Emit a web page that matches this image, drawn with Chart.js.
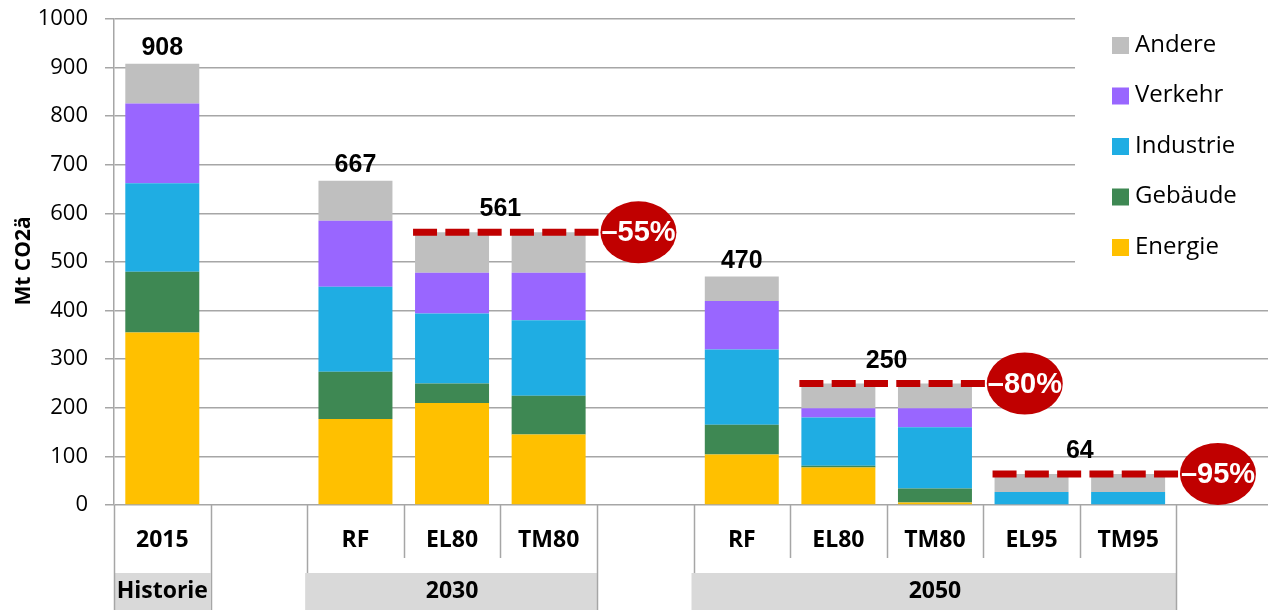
<!DOCTYPE html>
<html>
<head>
<meta charset="utf-8">
<script src="https://cdn.jsdelivr.net/npm/chart.js@4/dist/chart.umd.min.js"></script>
<style>
  html, body { margin: 0; padding: 0; background: #fff; overflow: hidden; }
  canvas { display: block; }
</style>
</head>
<body>
<canvas id="chart" width="1278" height="610"></canvas>
<script>
// categories on the x axis (blank ones are spacers between the groups)
const categories = ['2015', '', 'RF', 'EL80', 'TM80', '', 'RF', 'EL80', 'TM80', 'EL95', 'TM95', ''];

// Mt CO2ä per sector
const energie   = [355, null, 177, 210, 145, null, 104, 77,  5,   0,  0,  null];
const gebaeude  = [125, null,  97,  40,  80, null,  61,  4,  29,  0,  0,  null];
const industrie = [182, null, 175, 144, 155, null, 155, 99, 126, 27, 27,  null];
const verkehr   = [164, null, 136,  84,  98, null, 100, 19,  39,  0,  0,  null];
const andere    = [ 82, null,  82,  83,  83, null,  50, 51,  51, 37, 37,  null];

// totals written above single bars
const totalValues = [908, 667, 470];
const totalAt = [0, 2, 6];

// reduction targets (dashed line over a pair of bars)
const targetValues = [561, 250, 64];
const targetFrom = [3, 7, 9];
const targetTo = [4, 8, 10];
const targetLabels = ['\u201355%', '\u201380%', '\u201395%'];

// second row of the category axis
const groupNames = ['Historie', '2030', '2050'];
const groupFirst = [0, 2, 6];
const groupLast = [0, 4, 10];

Chart.defaults.font.family = '"Open Sans", sans-serif';
Chart.defaults.color = '#000';

const BAR_PCT = 0.766;
const LINE_GREY = '#a6a6a6';

const overlay = {
  id: 'overlay',
  afterDatasetsDraw(chart) {
    const { ctx, scales: { x, y } } = chart;
    const catW = x.getPixelForValue(1) - x.getPixelForValue(0);
    const barHalf = catW * BAR_PCT / 2;
    ctx.save();

    // totals above bars
    ctx.fillStyle = '#000';
    ctx.font = 'bold 25px "Liberation Sans", Arial, sans-serif';
    ctx.textAlign = 'center';
    ctx.textBaseline = 'alphabetic';
    totalValues.forEach((v, i) => {
      ctx.fillText(String(v), x.getPixelForValue(totalAt[i]), y.getPixelForValue(v) - 9);
    });

    // target lines and red badges
    targetValues.forEach((v, i) => {
      const py = y.getPixelForValue(v);
      const x0 = x.getPixelForValue(targetFrom[i]) - barHalf - 2;
      const cx = x.getPixelForValue(targetTo[i] + 0.93);

      ctx.save();
      ctx.strokeStyle = '#C00000';
      ctx.lineWidth = 7;
      ctx.setLineDash([24, 8.3]);
      ctx.beginPath();
      ctx.moveTo(x0, py);
      ctx.lineTo(cx - 36, py);
      ctx.stroke();
      ctx.restore();

      ctx.fillStyle = '#C00000';
      ctx.beginPath();
      ctx.ellipse(cx, py, 38, 31, 0, 0, Math.PI * 2);
      ctx.fill();

      ctx.fillStyle = '#fff';
      ctx.font = 'bold 29px "Liberation Sans", Arial, sans-serif';
      ctx.textAlign = 'left';
      ctx.textBaseline = 'middle';
      ctx.fillText(targetLabels[i], cx - 37, py + 1);

      ctx.fillStyle = '#000';
      ctx.font = 'bold 25px "Liberation Sans", Arial, sans-serif';
      ctx.textAlign = 'center';
      ctx.textBaseline = 'alphabetic';
      const mid = (x.getPixelForValue(targetFrom[i]) + x.getPixelForValue(targetTo[i])) / 2;
      ctx.fillText(String(v), mid, py - 16);
    });
    ctx.restore();
  },
  afterDraw(chart) {
    const { ctx, scales: { x, y } } = chart;
    const H = chart.height;
    const base = y.bottom;
    const edge = k => x.getPixelForValue(k - 0.5);
    ctx.save();

    // grey group boxes
    ctx.fillStyle = '#D9D9D9';
    groupNames.forEach((g, i) => {
      const l = edge(groupFirst[i]) + (groupFirst[i] === 0 ? 1 : -2);
      const r = edge(groupLast[i] + 1);
      ctx.fillRect(l, 573, r - l, H - 573);
    });

    // separators
    ctx.strokeStyle = LINE_GREY;
    ctx.lineWidth = 1.5;
    const vline = (px, y2) => {
      ctx.beginPath();
      ctx.moveTo(Math.round(px) + 0.5, base);
      ctx.lineTo(Math.round(px) + 0.5, y2);
      ctx.stroke();
    };
    groupNames.forEach((g, i) => {
      vline(edge(groupFirst[i]), groupFirst[i] === 0 ? H : 573);
      for (let k = groupFirst[i] + 1; k <= groupLast[i]; k++) vline(edge(k), 558);
      vline(edge(groupLast[i] + 1), H);
    });

    // category labels
    ctx.fillStyle = '#000';
    ctx.font = 'bold 23px "Open Sans", sans-serif';
    ctx.textAlign = 'center';
    ctx.textBaseline = 'middle';
    categories.forEach((c, i) => {
      if (c) ctx.fillText(c, x.getPixelForValue(i), 540);
    });
    groupNames.forEach((g, i) => {
      const l = edge(groupFirst[i]);
      const r = edge(groupLast[i] + 1);
      ctx.fillText(g, (l + r) / 2, 591);
    });

    // y axis title
    ctx.save();
    ctx.translate(24, 261);
    ctx.rotate(-Math.PI / 2);
    ctx.font = 'bold 21px "Open Sans", sans-serif';
    ctx.fillText('Mt CO2\u00e4', 0, 0);
    ctx.restore();

    // legend on a white box over the grid
    ctx.fillStyle = '#fff';
    ctx.fillRect(1075, 0, chart.width - 1075, 286);
    ctx.font = '24px "Open Sans", sans-serif';
    ctx.textAlign = 'left';
    const sets = chart.data.datasets;
    for (let i = sets.length - 1, r = 0; i >= 0; i--, r++) {
      const yc = 45 + r * 50.5;
      ctx.fillStyle = sets[i].backgroundColor;
      ctx.fillRect(1112, yc - 8, 17, 17);
      ctx.fillStyle = '#000';
      ctx.fillText(sets[i].label, 1135, yc);
    }
    ctx.restore();
  }
};

new Chart(document.getElementById('chart'), {
  type: 'bar',
  data: {
    labels: categories,
    datasets: [
      { label: 'Energie',   data: energie,   backgroundColor: '#FFC000' },
      { label: 'Gebäude',   data: gebaeude,  backgroundColor: '#3E8853' },
      { label: 'Industrie', data: industrie, backgroundColor: '#1FADE3' },
      { label: 'Verkehr',   data: verkehr,   backgroundColor: '#9966FF' },
      { label: 'Andere',    data: andere,    backgroundColor: '#BFBFBF' }
    ]
  },
  options: {
    responsive: false,
    devicePixelRatio: 1,
    animation: false,
    layout: { padding: { top: 19, right: 5, bottom: 105, left: 0 } },
    datasets: {
      bar: { categoryPercentage: 1, barPercentage: BAR_PCT, borderWidth: 0 }
    },
    plugins: {
      legend: { display: false },
      tooltip: { enabled: false }
    },
    scales: {
      x: { display: false, stacked: true },
      y: {
        stacked: true,
        min: 0,
        max: 1000,
        ticks: {
          stepSize: 100,
          padding: 17,
          font: { size: 22 },
          color: '#000',
          callback: v => String(v)
        },
        grid: { color: LINE_GREY, lineWidth: 1.5, tickLength: 9 },
        border: { color: LINE_GREY, width: 1.5 },
        afterFit(scale) {
          scale.width = 114;
          scale.paddingTop = 0;
          scale.paddingBottom = 0;
        }
      }
    }
  },
  plugins: [overlay]
});
</script>
</body>
</html>
